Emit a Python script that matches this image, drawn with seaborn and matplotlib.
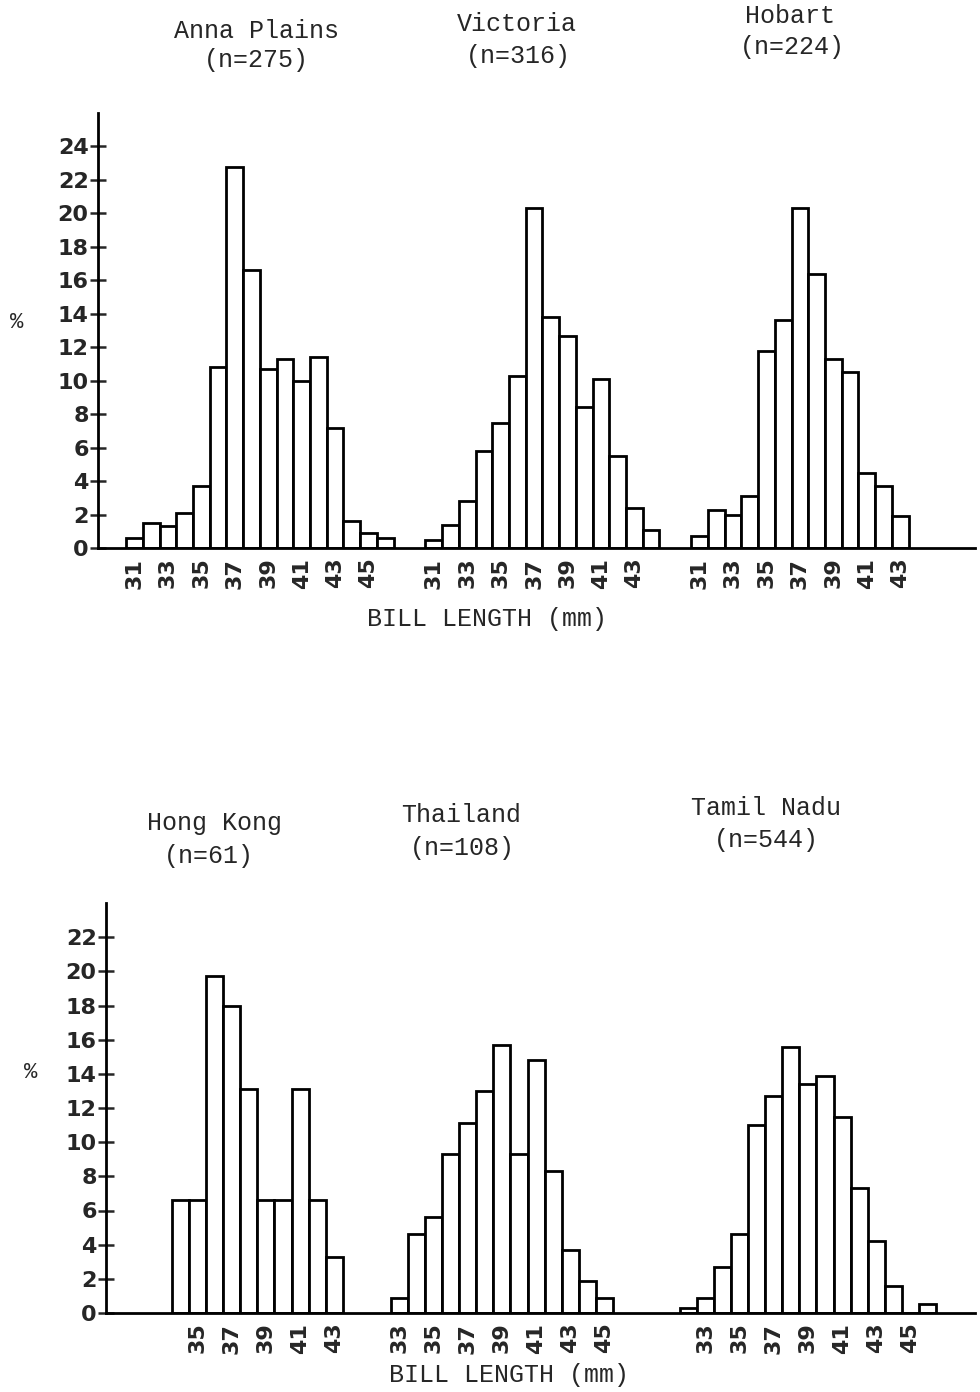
import matplotlib
matplotlib.use("Agg")
import matplotlib.pyplot as plt
import seaborn as sns
import pandas as pd

# ---------------- data (percent of birds per 1-mm bill-length class) ----------------
anna_mm = list(range(31, 47))
anna_pct = [0.6, 1.5, 1.3, 2.1, 3.7, 10.8, 22.8, 16.6, 10.7, 11.3, 10.0, 11.4, 7.2, 1.6, 0.9, 0.6]

victoria_mm = list(range(31, 45))
victoria_pct = [0.5, 1.4, 2.8, 5.8, 7.5, 10.3, 20.3, 13.8, 12.7, 8.4, 10.1, 5.5, 2.4, 1.1]

hobart_mm = list(range(31, 44))
hobart_pct = [0.7, 2.3, 2.0, 3.1, 11.8, 13.6, 20.3, 16.4, 11.3, 10.5, 4.5, 3.7, 1.9]

hongkong_mm = list(range(34, 44))
hongkong_pct = [6.6, 6.6, 19.7, 18.0, 13.1, 6.6, 6.6, 13.1, 6.6, 3.3]

thailand_mm = list(range(33, 46))
thailand_pct = [0.9, 4.6, 5.6, 9.3, 11.1, 13.0, 15.7, 9.3, 14.8, 8.3, 3.7, 1.9, 0.9]

tamil_mm = list(range(32, 47))
tamil_pct = [0.3, 0.9, 2.7, 4.6, 11.0, 12.7, 15.6, 13.4, 13.9, 11.5, 7.3, 4.2, 1.6, 0.0, 0.5]

top_titles = ["Anna Plains", "Victoria", "Hobart"]
top_n = ["(n=275)", "(n=316)", "(n=224)"]
bottom_titles = ["Hong Kong", "Thailand", "Tamil Nadu"]
bottom_n = ["(n=61)", "(n=108)", "(n=544)"]

top_tick_mm = [list(range(31, 46, 2)), list(range(31, 44, 2)), list(range(31, 44, 2))]
bottom_tick_mm = [list(range(35, 44, 2)), list(range(33, 46, 2)), list(range(33, 46, 2))]

top_yticks = list(range(0, 25, 2))
bottom_yticks = list(range(0, 23, 2))

xlabel = "BILL LENGTH (mm)"

# ---------------- layout ----------------
W, H = 980, 1392
sns.set_style("ticks")
plt.rcParams["font.family"] = ["DejaVu Sans"]

fig = plt.figure(figsize=(W / 100, H / 100), dpi=100)


def fx(px):
    return px / W


def fy(py):
    return 1 - py / H


def panel(ax_box, groups, offsets, tick_mm, yticks, ylim, xlim):
    ax = fig.add_axes(ax_box)
    rows = []
    tpos, tlab = [], []
    for (mm, pct), off, tm in zip(groups, offsets, tick_mm):
        for m, p in zip(mm, pct):
            rows.append({"pos": off + (m - mm[0]), "pct": p})
        for m in tm:
            tpos.append(off + (m - mm[0]))
            tlab.append(str(m))
    df = pd.DataFrame(rows)
    sns.barplot(data=df, x="pos", y="pct", native_scale=True, width=1.0,
                color="white", edgecolor="black", linewidth=2.0,
                errorbar=None, ax=ax)
    ax.set_xlim(*xlim)
    ax.set_ylim(*ylim)
    ax.set_xticks(tpos)
    ax.set_xticklabels(tlab, rotation=90, fontsize=16, fontweight="bold")
    ax.set_yticks(yticks)
    ax.set_yticklabels([str(v) for v in yticks], fontsize=16, fontweight="bold")
    ax.tick_params(axis="x", length=0, pad=7)
    ax.tick_params(axis="y", direction="inout", length=11.5, width=1.8, pad=1)
    ax.set_xlabel("")
    ax.set_ylabel("")
    for s in ["top", "right"]:
        ax.spines[s].set_visible(False)
    for s in ["left", "bottom"]:
        ax.spines[s].set_linewidth(2.0)
        ax.spines[s].set_color("black")
    ax.set_facecolor("white")
    return ax


# top panel: y axis x=98, baseline y=548, top y=113, right x=975
top_box = [fx(98), fy(548), fx(975) - fx(98), (548 - 113) / H]
panel(top_box,
      [(anna_mm, anna_pct), (victoria_mm, victoria_pct), (hobart_mm, hobart_pct)],
      [0.0, 17.9, 33.8], top_tick_mm, top_yticks, (0, 26.0), (-2.18, 50.27))

# bottom panel: y axis x=106, baseline y=1313, top y=903
bot_box = [fx(106), fy(1313), fx(975) - fx(106), (1313 - 903) / H]
panel(bot_box,
      [(hongkong_mm, hongkong_pct), (thailand_mm, thailand_pct), (tamil_mm, tamil_pct)],
      [0.0, 12.8, 29.7], bottom_tick_mm, bottom_yticks, (0, 24.0), (-4.35, 46.47))

mono = ["Liberation Mono", "DejaVu Sans Mono"]
tsize = 18

top_title_pos = [((256, 31), (256, 60)), ((517, 24), (518, 56)), ((790, 16), (792, 47))]
for t, n, (p1, p2) in zip(top_titles, top_n, top_title_pos):
    fig.text(fx(p1[0]), fy(p1[1]), t, ha="center", va="center", family=mono, fontsize=tsize)
    fig.text(fx(p2[0]), fy(p2[1]), n, ha="center", va="center", family=mono, fontsize=tsize)

bot_title_pos = [((214, 823), (209, 856)), ((461, 815), (462, 848)), ((766, 808), (766, 840))]
for t, n, (p1, p2) in zip(bottom_titles, bottom_n, bot_title_pos):
    fig.text(fx(p1[0]), fy(p1[1]), t, ha="center", va="center", family=mono, fontsize=tsize)
    fig.text(fx(p2[0]), fy(p2[1]), n, ha="center", va="center", family=mono, fontsize=tsize)

fig.text(fx(487), fy(619), xlabel, ha="center", va="center", family=mono, fontsize=tsize)
fig.text(fx(509), fy(1375), xlabel, ha="center", va="center", family=mono, fontsize=tsize)

fig.text(fx(17), fy(322), "%", ha="center", va="center", family=mono, fontsize=16)
fig.text(fx(31), fy(1073), "%", ha="center", va="center", family=mono, fontsize=16)

fig.savefig("out.png", dpi=100, facecolor="white")
